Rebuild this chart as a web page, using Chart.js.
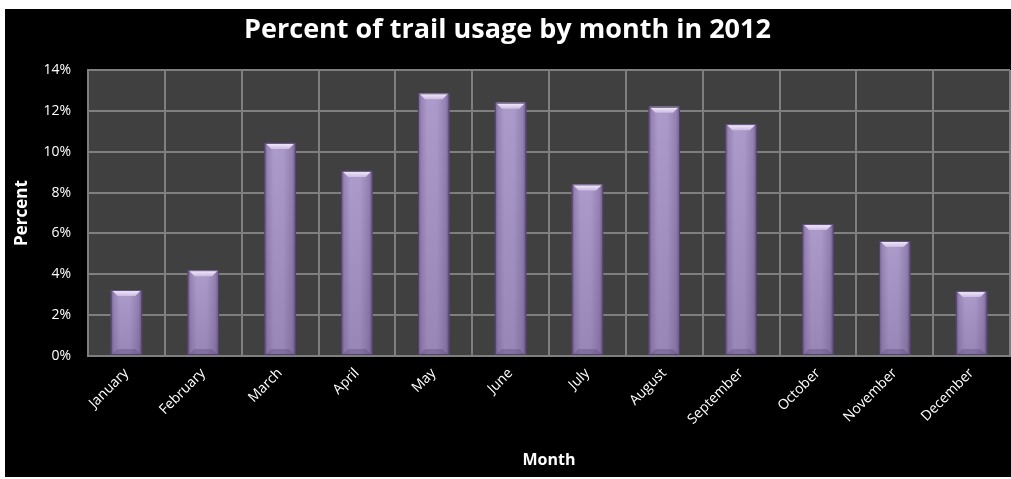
<!DOCTYPE html>
<html>
<head>
<meta charset="utf-8">
<script src="https://cdn.jsdelivr.net/npm/chart.js@4/dist/chart.umd.min.js"></script>
<style>
  html, body { margin: 0; padding: 0; background: #fff; }
  #frame { position: absolute; left: 5px; top: 9px; width: 1006px; height: 468px; background: #000; }
</style>
</head>
<body>
<div id="frame"><canvas id="usage"></canvas></div>
<script>
const months = ["January", "February", "March", "April", "May", "June",
  "July", "August", "September", "October", "November", "December"];
const usagePercent = [3.23, 4.2, 10.43, 9.06, 12.86, 12.4, 8.4, 12.2, 11.35, 6.46, 5.63, 3.18];
const yTicks = [0, 2, 4, 6, 8, 10, 12, 14];

const FONT = "'Open Sans', 'DejaVu Sans', sans-serif";

// dark grey plot background behind the grid
const plotBackground = {
  id: "plotBackground",
  beforeDraw(chart) {
    const { ctx, chartArea: a } = chart;
    ctx.save();
    ctx.fillStyle = "#404040";
    ctx.fillRect(a.left, a.top, a.right - a.left, a.bottom - a.top);
    ctx.restore();
  },
};

// bevelled lavender bars, painted over the library's bar elements
const bevelBars = {
  id: "bevelBars",
  afterDatasetsDraw(chart) {
    const ctx = chart.ctx;
    const meta = chart.getDatasetMeta(0);
    meta.data.forEach((bar) => {
      const w = bar.width;
      const x0 = bar.x - w / 2, x1 = bar.x + w / 2;
      const y0 = bar.y, y1 = bar.base;
      const h = y1 - y0;
      const b = 6;
      ctx.save();
      let g = ctx.createLinearGradient(x0, 0, x1, 0);
      g.addColorStop(0, "#6e5b8c");
      g.addColorStop(0.1, "#9885b5");
      g.addColorStop(0.3, "#ad9ccb");
      g.addColorStop(0.6, "#ac9bca");
      g.addColorStop(0.88, "#9482b2");
      g.addColorStop(1, "#6a5888");
      ctx.fillStyle = g;
      ctx.fillRect(x0, y0, w, h);
      // slight darkening towards the base
      g = ctx.createLinearGradient(0, y0, 0, y1);
      g.addColorStop(0, "rgba(60,40,90,0)");
      g.addColorStop(1, "rgba(60,40,90,0.18)");
      ctx.fillStyle = g;
      ctx.fillRect(x0, y0, w, h);
      // top bevel
      g = ctx.createLinearGradient(0, y0, 0, y0 + b);
      g.addColorStop(0, "#f7f0fd");
      g.addColorStop(1, "#cbbbe2");
      ctx.fillStyle = g;
      ctx.beginPath();
      ctx.moveTo(x0 + 1, y0);
      ctx.lineTo(x1 - 1, y0);
      ctx.lineTo(x1 - b - 1, y0 + b);
      ctx.lineTo(x0 + b + 1, y0 + b);
      ctx.closePath();
      ctx.fill();
      // bottom bevel
      ctx.fillStyle = "rgba(90,70,120,0.35)";
      ctx.beginPath();
      ctx.moveTo(x0 + 1, y1);
      ctx.lineTo(x1 - 1, y1);
      ctx.lineTo(x1 - b - 1, y1 - b);
      ctx.lineTo(x0 + b + 1, y1 - b);
      ctx.closePath();
      ctx.fill();
      ctx.strokeStyle = "rgba(80,62,108,0.9)";
      ctx.lineWidth = 1;
      ctx.strokeRect(x0 + 0.5, y0 + 0.5, w - 1, h - 1);
      ctx.restore();
    });
  },
};

new Chart(document.getElementById("usage"), {
  type: "bar",
  data: {
    labels: months,
    datasets: [{
      label: "Percent",
      data: usagePercent,
      backgroundColor: "rgba(0,0,0,0)",
      borderWidth: 0,
      categoryPercentage: 1,
      barPercentage: 0.41,
    }],
  },
  options: {
    responsive: true,
    maintainAspectRatio: false,
    animation: false,
    layout: { padding: { left: 0, right: 1, top: 0, bottom: 0 } },
    plugins: {
      legend: { display: false },
      tooltip: { enabled: false },
      title: {
        display: true,
        text: "Percent of trail usage by month in 2012",
        color: "#fff",
        font: { family: FONT, size: 27, weight: "bold" },
        padding: { top: 5, bottom: 23.6 },
      },
    },
    scales: {
      x: {
        offset: true,
        grid: { color: "#7f7f7f", lineWidth: 2, drawTicks: false, offset: true },
        border: { color: "#7f7f7f", width: 2 },
        ticks: {
          color: "#fff",
          font: { family: FONT, size: 14 },
          minRotation: 45,
          maxRotation: 45,
          padding: 9,
        },
        title: {
          display: true,
          text: "Month",
          color: "#fff",
          font: { family: FONT, size: 16, weight: "bold" },
          padding: { top: 0, bottom: 7 },
        },
        afterFit(scale) { scale.height = 121; },
      },
      y: {
        min: 0,
        max: 14,
        afterBuildTicks(scale) { scale.ticks = yTicks.map((v) => ({ value: v })); },
        grid: { color: "#7f7f7f", lineWidth: 2, drawTicks: false },
        border: { color: "#7f7f7f", width: 2 },
        ticks: {
          color: "#fff",
          font: { family: FONT, size: 14 },
          padding: 17,
          callback: (v) => v + "%",
        },
        title: {
          display: true,
          text: "Percent",
          color: "#fff",
          font: { family: FONT, size: 17, weight: "bold" },
          padding: { top: 7, bottom: 0 },
        },
        afterFit(scale) { scale.width = 83; },
      },
    },
  },
  plugins: [plotBackground, bevelBars],
});
</script>
</body>
</html>
